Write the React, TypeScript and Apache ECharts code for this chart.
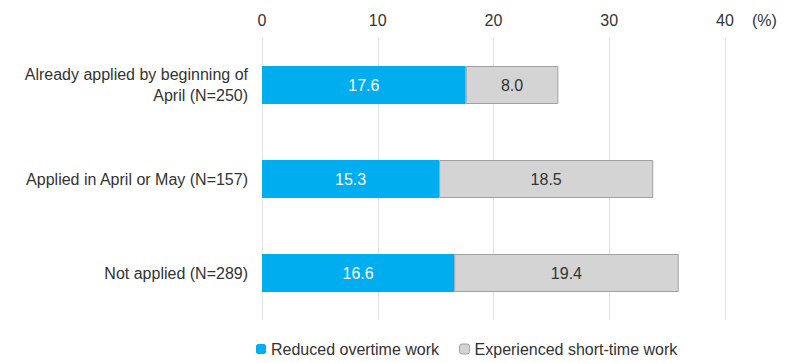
import React, { useEffect, useRef } from "react";
import * as echarts from "echarts";

const categories = [
  "Already applied by beginning of\nApril (N=250)",
  "Applied in April or May (N=157)",
  "Not applied (N=289)",
];
const reducedOvertime = [17.6, 15.3, 16.6];
const shortTime = [8.0, 18.5, 19.4];
const seriesNames = ["Reduced overtime work", "Experienced short-time work"];
const xTicks = [0, 10, 20, 30, 40];

const FONT = "Liberation Sans, Arial, sans-serif";
const FS = 16;

export default function App() {
  const ref = useRef<HTMLDivElement>(null);
  useEffect(() => {
    if (!ref.current) return;
    const chart = echarts.init(ref.current, undefined, { renderer: "svg" });
    chart.setOption({
      animation: false,
      textStyle: { fontFamily: FONT },
      grid: { left: 262, right: 66, top: 38, height: 282, containLabel: false },
      legend: {
        top: 336,
        left: 251,
        itemWidth: 10,
        itemHeight: 10,
        itemGap: 20,
        textStyle: { fontSize: FS, color: "#333", fontFamily: FONT },
        data: [
          { name: seriesNames[0], itemStyle: { color: "#00aeef", borderWidth: 0 } },
          { name: seriesNames[1], itemStyle: { color: "#d4d4d4", borderColor: "#a0a0a0", borderWidth: 1 } },
        ],
      },
      graphic: [
        {
          type: "text",
          left: 752,
          top: 12,
          style: { text: "(%)", fontSize: FS, fill: "#333", fontFamily: FONT },
        },
      ],
      xAxis: {
        type: "value",
        position: "top",
        min: xTicks[0],
        max: xTicks[xTicks.length - 1],
        interval: 10,
        axisLine: { show: false },
        axisTick: { show: false },
        axisLabel: { fontSize: FS, color: "#333", margin: 10, fontFamily: FONT },
        splitLine: { show: true, lineStyle: { color: "#e2e2e2", width: 1 } },
      },
      yAxis: {
        type: "category",
        inverse: true,
        data: categories,
        axisLine: { show: false },
        axisTick: { show: false },
        axisLabel: {
          fontSize: FS,
          color: "#333",
          margin: 14,
          align: "right",
          lineHeight: 21,
          fontFamily: FONT,
        },
      },
      series: [
        {
          name: seriesNames[0],
          type: "bar",
          stack: "total",
          data: reducedOvertime,
          barWidth: 38,
          itemStyle: { color: "#00aeef" },
          label: {
            show: true,
            position: "inside",
            color: "#fff",
            fontSize: FS,
            fontFamily: FONT,
            formatter: (p: any) => p.value.toFixed(1),
          },
        },
        {
          name: seriesNames[1],
          type: "bar",
          stack: "total",
          data: shortTime,
          barWidth: 38,
          itemStyle: { color: "#d4d4d4", borderColor: "#a0a0a0", borderWidth: 1 },
          label: {
            show: true,
            position: "inside",
            color: "#333",
            fontSize: FS,
            fontFamily: FONT,
            formatter: (p: any) => p.value.toFixed(1),
          },
        },
      ],
    });
    return () => chart.dispose();
  }, []);
  return <div ref={ref} style={{ width: 791, height: 363, position: "absolute", left: 0, top: 0 }} />;
}
